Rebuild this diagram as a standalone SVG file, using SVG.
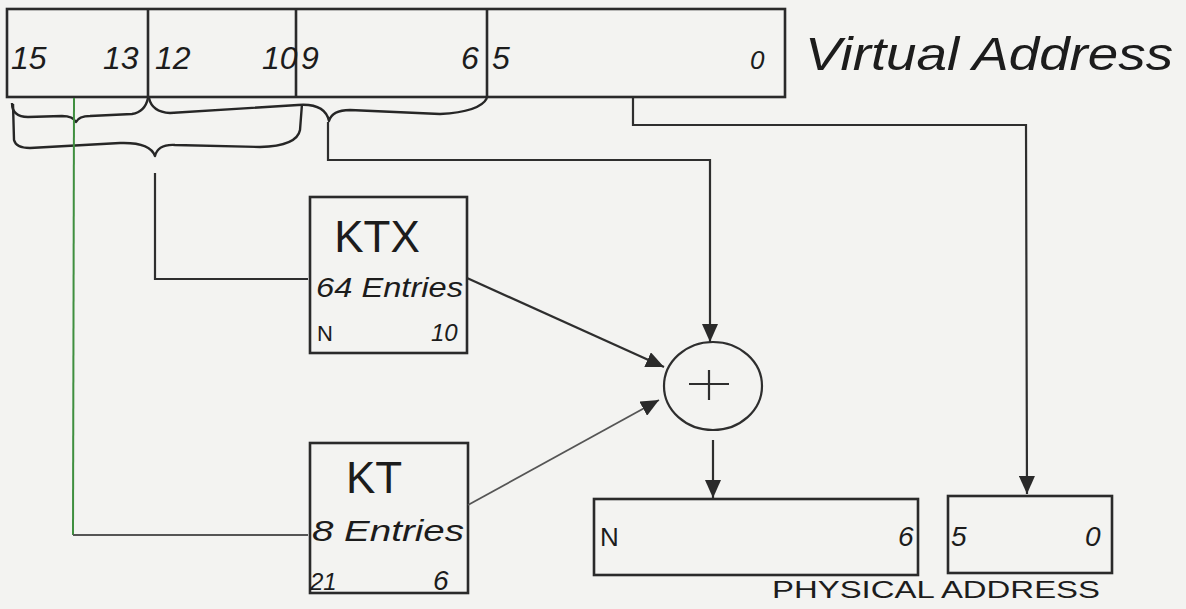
<svg xmlns="http://www.w3.org/2000/svg" width="1186" height="609" viewBox="0 0 1186 609">
<defs>
<style>
.bx{fill:none;stroke:#2a2a2a;stroke-width:2.6}
.ln{fill:none;stroke:#2e2e2e;stroke-width:2.2}
.lt{fill:none;stroke:#555;stroke-width:1.8}
.br{fill:none;stroke:#262626;stroke-width:2.4;stroke-linejoin:round}
.t{font-family:"Liberation Sans",Arial,sans-serif;fill:#1c1c1c}
.i{font-style:italic}
</style>
<marker id="ah" markerUnits="userSpaceOnUse" markerWidth="20" markerHeight="16" refX="18" refY="8" orient="auto">
<path d="M0,0 L18,8 L0,16 z" fill="#2a2a2a"/>
</marker>
</defs>
<rect width="1186" height="609" fill="#f3f3f1"/>

<g id="virtual-address">
<rect class="bx" x="7" y="9" width="778" height="88"/>
<line class="bx" x1="148" y1="9" x2="148" y2="97"/>
<line class="bx" x1="296" y1="9" x2="296" y2="97"/>
<line class="bx" x1="487" y1="9" x2="487" y2="97"/>
<text class="t i" x="11" y="69" font-size="32">15</text>
<text class="t i" x="103" y="69" font-size="32">13</text>
<text class="t i" x="155" y="69" font-size="32">12</text>
<text class="t i" x="262" y="69" font-size="32">10</text>
<text class="t i" x="301" y="69" font-size="32">9</text>
<text class="t i" x="461" y="69" font-size="32">6</text>
<text class="t i" x="492" y="69" font-size="32">5</text>
<text class="t i" x="750" y="69" font-size="26">0</text>
<text class="t i" x="805" y="70" font-size="46" textLength="368" lengthAdjust="spacingAndGlyphs">Virtual Address</text>
</g>

<g id="ktx">
<rect class="bx" x="310" y="197" width="157" height="156"/>
<text class="t" x="377" y="252" font-size="44" text-anchor="middle">KTX</text>
<text class="t i" x="316" y="297" font-size="28" textLength="147" lengthAdjust="spacingAndGlyphs">64 Entries</text>
<text class="t" x="317" y="341" font-size="22">N</text>
<text class="t i" x="431" y="341" font-size="24">10</text>
</g>

<g id="kt">
<rect class="bx" x="310" y="443" width="158" height="150"/>
<text class="t" x="346" y="493" font-size="44">KT</text>
<text class="t i" x="312" y="541" font-size="30" textLength="152" lengthAdjust="spacingAndGlyphs">8 Entries</text>
<text class="t i" x="310" y="590" font-size="24">21</text>
<text class="t i" x="433" y="590" font-size="28">6</text>
</g>

<g id="adder">
<ellipse class="ln" cx="713" cy="386" rx="49" ry="44"/>
<path class="ln" d="M689,384 H729 M709,370 V400" stroke-width="2.6"/>
</g>

<g id="physical-high">
<rect class="bx" x="594" y="499" width="324" height="76"/>
<text class="t" x="600" y="546" font-size="26">N</text>
<text class="t i" x="898" y="546" font-size="28">6</text>
</g>

<g id="physical-low">
<rect class="bx" x="948" y="496" width="164" height="77"/>
<text class="t i" x="951" y="546" font-size="28">5</text>
<text class="t i" x="1085" y="546" font-size="28">0</text>
</g>

<g id="label-physical">
<text class="t" x="772" y="598" font-size="24" textLength="328" lengthAdjust="spacingAndGlyphs">PHYSICAL ADDRESS</text>
</g>

<g id="connectors">
<path class="br" d="M12,103 Q12,117 28,117 L62,116 Q73,116 76,122 Q79,116 90,116 L132,114 Q145,112 148,98"/>
<path class="br" d="M149,98 Q152,112 170,113 L298,105 Q325,103 329,121 Q332,110 350,110 L440,114 Q480,112 487,98"/>
<path class="br" d="M13,104 L14,140 Q16,148 30,148 L120,143 Q150,142 155,156 Q158,144 175,145 L260,147 Q297,146 300,130 L302,104"/>
<path d="M74,98 L73,535" fill="none" stroke="#3f8f3f" stroke-width="2"/>
<path class="lt" d="M73,535 L308,535"/>
<path class="ln" d="M155,173 L155,279 L308,279"/>
<path class="ln" d="M328,122 L328,160 L710,160 L710,342" marker-end="url(#ah)"/>
<path class="ln" d="M633,98 L633,125 L1026,125 L1027,494" marker-end="url(#ah)"/>
<path class="ln" d="M467,278 L664,367" stroke-width="2.8" marker-end="url(#ah)"/>
<path class="lt" d="M468,505 L659,400" marker-end="url(#ah)"/>
<path class="ln" d="M713,440 L713,498" marker-end="url(#ah)"/>
</g>
</svg>
